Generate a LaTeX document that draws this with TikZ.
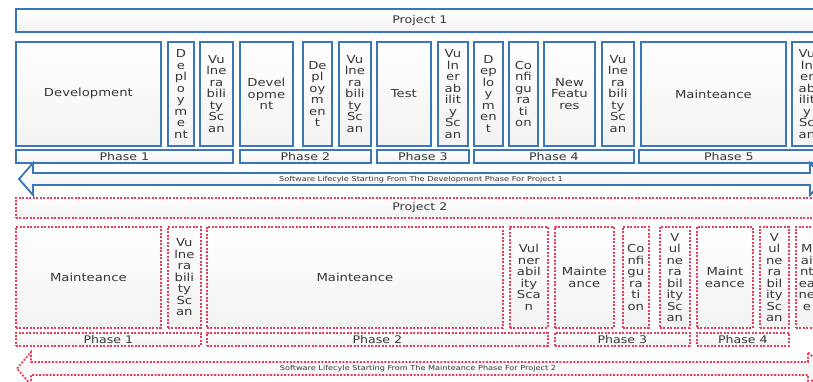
\documentclass[tikz,border=0pt]{standalone}
\usepackage{fontspec}
\setmainfont{DejaVu Sans}[FakeStretch=1.2]
\definecolor{bblue}{RGB}{58,118,186}
\definecolor{rred}{RGB}{228,62,92}
\definecolor{txt}{RGB}{55,55,55}
\tikzset{
  boxbase/.style={anchor=north west, inner sep=0pt, align=center, text=txt,
    top color=white, bottom color=gray!10, font=\fontsize{11}{11.5}\selectfont},
  bb/.style={boxbase, draw=bblue, line width=1.8pt},
  rb/.style={boxbase, draw=rred, line width=1.7pt, dash pattern=on 2pt off 1.5pt},
  phasefont/.style={font=\fontsize{10.5}{11}\selectfont},
  titlefont/.style={font=\fontsize{10.5}{11}\selectfont},
  arrowtext/.style={text=txt, font=\fontsize{6.8}{7}\selectfont, inner sep=0pt},
}
\begin{document}
\begin{tikzpicture}[x=1pt, y=-1pt]
\useasboundingbox (0,0) rectangle (813,381);
\clip (0,0) rectangle (813,381);
\fill[white] (0,0) rectangle (813,381);

% ---------------- Project 1 ----------------
\node[bb, titlefont, minimum width=808pt, minimum height=23pt] (proj1) at (15,8) {Project 1};

\node[bb, minimum width=145pt, minimum height=104pt] (dev1) at (15,41) {Development};
\node[bb, minimum width=26pt, minimum height=104pt] (dep1) at (167,41) {D\\e\\pl\\o\\y\\m\\e\\nt};
\node[bb, minimum width=33pt, minimum height=104pt] (vs1) at (199,41) {Vu\\lne\\ra\\bili\\ty\\Sc\\an};
\node[bb, minimum width=53pt, minimum height=104pt] (dev2) at (239,41) {Devel\\opme\\nt};
\node[bb, minimum width=29pt, minimum height=104pt] (dep2) at (302,41) {De\\pl\\oy\\m\\en\\t};
\node[bb, minimum width=32pt, minimum height=104pt] (vs2) at (338,41) {Vu\\lne\\ra\\bili\\ty\\Sc\\an};
\node[bb, minimum width=54pt, minimum height=104pt] (test) at (376,41) {Test};
\node[bb, minimum width=30pt, minimum height=104pt] (vs3) at (437,41) {Vu\\ln\\er\\ab\\ilit\\y\\Sc\\an};
\node[bb, minimum width=29pt, minimum height=104pt] (dep3) at (473,41) {D\\ep\\lo\\y\\m\\en\\t};
\node[bb, minimum width=29pt, minimum height=104pt] (conf1) at (508,41) {Co\\nfi\\gu\\ra\\ti\\on};
\node[bb, minimum width=51pt, minimum height=104pt] (newf) at (543,41) {New\\Featu\\res};
\node[bb, minimum width=32pt, minimum height=104pt] (vs4) at (601,41) {Vu\\lne\\ra\\bili\\ty\\Sc\\an};
\node[bb, minimum width=145pt, minimum height=104pt] (mnt1) at (640,41) {Mainteance};
\node[bb, minimum width=30pt, minimum height=104pt] (vs5) at (791,41) {Vu\\ln\\er\\ab\\ilit\\y\\Sc\\an};

\node[bb, phasefont, minimum width=217pt, minimum height=13pt] (ph1) at (15,149) {Phase 1};
\node[bb, phasefont, minimum width=131pt, minimum height=13pt] (ph2) at (239,149) {Phase 2};
\node[bb, phasefont, minimum width=92pt, minimum height=13pt] (ph3) at (376,149) {Phase 3};
\node[bb, phasefont, minimum width=160pt, minimum height=13pt] (ph4) at (473,149) {Phase 4};
\node[bb, phasefont, minimum width=180pt, minimum height=13pt] (ph5) at (638,149) {Phase 5};

\draw[draw=bblue, line width=1.8pt, top color=white, bottom color=gray!10]
  (19,179) -- (33,163) -- (33,173) -- (810,173) -- (810,163) -- (826,179)
  -- (810,195) -- (810,185) -- (33,185) -- (33,195) -- cycle;
\node[arrowtext] (arr1) at (421,179.5) {Software Lifecyle Starting From The Development Phase For Project 1};

% ---------------- Project 2 ----------------
\node[rb, titlefont, minimum width=808pt, minimum height=20pt] (proj2) at (15,197) {Project 2};

\node[rb, minimum width=145pt, minimum height=101pt] (m1) at (15,226) {Mainteance};
\node[rb, minimum width=33pt, minimum height=101pt] (v1) at (167,226) {Vu\\lne\\ra\\bili\\ty\\Sc\\an};
\node[rb, minimum width=296pt, minimum height=101pt] (m2) at (206,226) {Mainteance};
\node[rb, minimum width=38pt, minimum height=101pt] (v2) at (509,226) {Vul\\ner\\abil\\ity\\Sca\\n};
\node[rb, minimum width=59pt, minimum height=101pt] (m3) at (554,226) {Mainte\\ance};
\node[rb, minimum width=26pt, minimum height=101pt] (c2) at (622,226) {Co\\nfi\\gu\\ra\\ti\\on};
\node[rb, minimum width=30pt, minimum height=101pt] (v3) at (659,226) {V\\ul\\ne\\ra\\bil\\ity\\Sc\\an};
\node[rb, minimum width=56pt, minimum height=101pt] (m4) at (696,226) {Maint\\eance};
\node[rb, minimum width=29pt, minimum height=101pt] (v4) at (759,226) {V\\ul\\ne\\ra\\bil\\ity\\Sc\\an};
\node[rb, minimum width=22pt, minimum height=101pt] (m5) at (795,226) {M\\ai\\nt\\ea\\ne\\e};

\node[rb, phasefont, minimum width=185pt, minimum height=13pt] (q1) at (15,332) {Phase 1};
\node[rb, phasefont, minimum width=341pt, minimum height=13pt] (q2) at (206,332) {Phase 2};
\node[rb, phasefont, minimum width=135pt, minimum height=13pt] (q3) at (554,332) {Phase 3};
\node[rb, phasefont, minimum width=92pt, minimum height=13pt] (q4) at (696,332) {Phase 4};

\draw[draw=rred, line width=1.7pt, dash pattern=on 2pt off 1.5pt, top color=white, bottom color=gray!10]
  (17,368.5) -- (31,352) -- (31,362) -- (808,362) -- (808,352) -- (824,368.5)
  -- (808,385) -- (808,375) -- (31,375) -- (31,385) -- cycle;
\node[arrowtext] (arr2) at (418,369) {Software Lifecyle Starting From The Mainteance Phase For Project 2};
\end{tikzpicture}
\end{document}
